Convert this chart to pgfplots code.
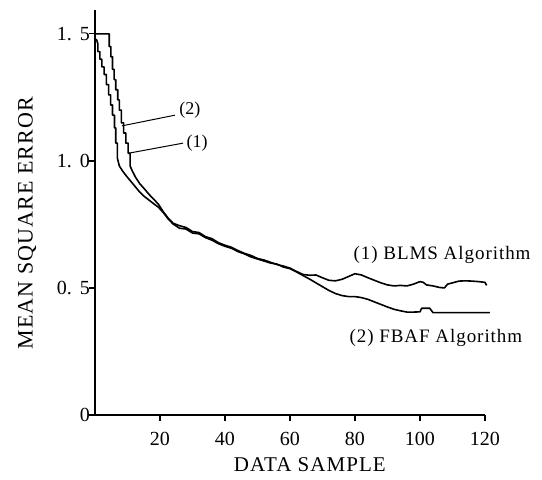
\documentclass[border=0pt]{standalone}
\usepackage{fontspec}
\setmainfont{Liberation Serif}
\usepackage{pgfplots}
\pgfplotsset{compat=1.18}

\begin{document}
\begin{tikzpicture}
% picture frame: 1px of the reference = 0.5pt
\path[use as bounding box] (-47.5pt,-32.5pt) rectangle (223.5pt,207.5pt);
\begin{axis}[
  at={(0,0)}, anchor=south west,
  scale only axis,
  width=195pt, height=202.5pt,
  xmin=0, xmax=120,
  ymin=0, ymax=1.594,
  axis lines=left,
  axis line style={-, line width=0.6pt},
  tick align=outside,
  major tick length=3pt,
  tick style={line width=0.6pt, black},
  xtick={20,40,60,80,100,120},
  xticklabels={20,40,60,80,100,120},
  ytick={0,0.5,1,1.5},
  yticklabels={0,{0.\hspace{4pt}5},{1.\hspace{4pt}0},{1.\hspace{4pt}5}},
  ticklabel style={font=\fontsize{10}{11}\selectfont},
  xticklabel style={yshift=-2pt},
  yticklabel style={xshift=4pt},
  xlabel={DATA SAMPLE},
  ylabel={MEAN SQUARE ERROR},
  xlabel style={at={(axis description cs:0.551,-0.1235)}, anchor=center,
    font=\fontsize{10.5}{12}\selectfont\addfontfeature{LetterSpace=5}},
  ylabel style={at={(axis description cs:-0.174,0.474)}, anchor=center, rotate=0,
    font=\fontsize{11}{12}\selectfont\addfontfeature{LetterSpace=5}},
  clip=false,
]
% (1) BLMS Algorithm
\addplot[black, line width=0.8pt, line join=round] coordinates {
  (0.3,1.50) (4.4,1.50) (4.4,1.45) (4.9,1.45) (4.9,1.41) (5.4,1.41)
  (5.4,1.36) (5.9,1.36) (5.9,1.32) (6.4,1.32) (6.4,1.28) (7.0,1.28)
  (7.0,1.24) (7.5,1.24) (7.5,1.20) (8.1,1.20) (8.1,1.15) (8.8,1.15)
  (8.8,1.11) (9.5,1.11) (9.5,1.07) (10.2,1.07) (10.2,1.03) (10.8,1.03)
  (10.8,0.98) (11.5,0.96) (12.5,0.935) (13.8,0.91) (15.2,0.89) (16.5,0.87)
  (18,0.85) (19.5,0.83) (21,0.80) (22.5,0.775) (24,0.755) (26,0.745)
  (28,0.738) (30,0.722) (32,0.718) (34,0.702) (36,0.694) (38,0.678)
  (40,0.668) (42,0.66) (44,0.647) (46,0.636) (48,0.628) (50,0.616)
  (52,0.610) (54,0.601) (56,0.592) (58,0.586) (60,0.578) (62,0.565)
  (64,0.553) (66,0.55) (68,0.551) (70,0.54) (72,0.53) (74,0.528)
  (76,0.534) (78,0.545) (80,0.556) (82,0.551) (84,0.54) (86,0.53)
  (88,0.52) (90,0.512) (92,0.508) (94,0.51) (96,0.508) (98,0.515)
  (100,0.525) (101,0.522) (102,0.512) (104,0.508) (106,0.502) (107.5,0.50)
  (108.5,0.515) (110,0.52) (112,0.527) (114,0.528) (116,0.527) (118,0.525)
  (120,0.522) (120.5,0.51)
};
% (2) FBAF Algorithm
\addplot[black, line width=0.8pt, line join=round] coordinates {
  (0.4,1.48) (0.9,1.46) (0.9,1.43) (1.5,1.43) (1.5,1.40) (2.1,1.40)
  (2.1,1.37) (2.8,1.37) (2.8,1.34) (3.5,1.34) (3.5,1.30) (4.2,1.30)
  (4.2,1.26) (4.8,1.26) (4.8,1.22) (5.4,1.22) (5.4,1.18) (6.0,1.18)
  (6.0,1.13) (6.4,1.13) (6.4,1.07) (6.9,1.07) (6.9,1.01) (7.5,0.98)
  (8.5,0.96) (9.7,0.94) (11,0.92) (12.3,0.90) (13.6,0.88) (15,0.862)
  (16.5,0.847) (18,0.832) (19.5,0.818) (21,0.797) (22.5,0.772) (24,0.752)
  (26,0.735) (28,0.732) (30,0.716) (32,0.713) (34,0.698) (36,0.688)
  (38,0.674) (40,0.664) (42,0.656) (44,0.643) (46,0.634) (48,0.622)
  (50,0.614) (52,0.606) (54,0.598) (56,0.594) (58,0.582) (60,0.576)
  (62,0.563) (64,0.549) (66,0.535) (68,0.52) (70,0.505) (72,0.49)
  (74,0.478) (76,0.47) (78,0.466) (80,0.466) (82,0.462) (84,0.455)
  (86,0.445) (88,0.435) (90,0.425) (92,0.416) (94,0.41) (96,0.405)
  (98,0.405) (100,0.406) (100.5,0.42) (103,0.42) (104,0.403) (121.5,0.403)
};
% leader lines and curve labels
\draw[line width=0.5pt] (axis cs:8.3,1.138) -- (axis cs:24.6,1.18);
\draw[line width=0.5pt] (axis cs:10.2,1.03) -- (axis cs:27.1,1.07);
\node[font=\fontsize{9}{10}\selectfont] at (axis cs:29.2,1.20) {(2)};
\node[font=\fontsize{9}{10}\selectfont] at (axis cs:31.4,1.07) {(1)};
\node[font=\fontsize{9.5}{11}\selectfont\addfontfeature{LetterSpace=5}]
  at (axis cs:106.8,0.630) {(1) BLMS Algorithm};
\node[font=\fontsize{9.5}{11}\selectfont\addfontfeature{LetterSpace=5}]
  at (axis cs:104.9,0.303) {(2) FBAF Algorithm};
\end{axis}
\end{tikzpicture}
\end{document}
